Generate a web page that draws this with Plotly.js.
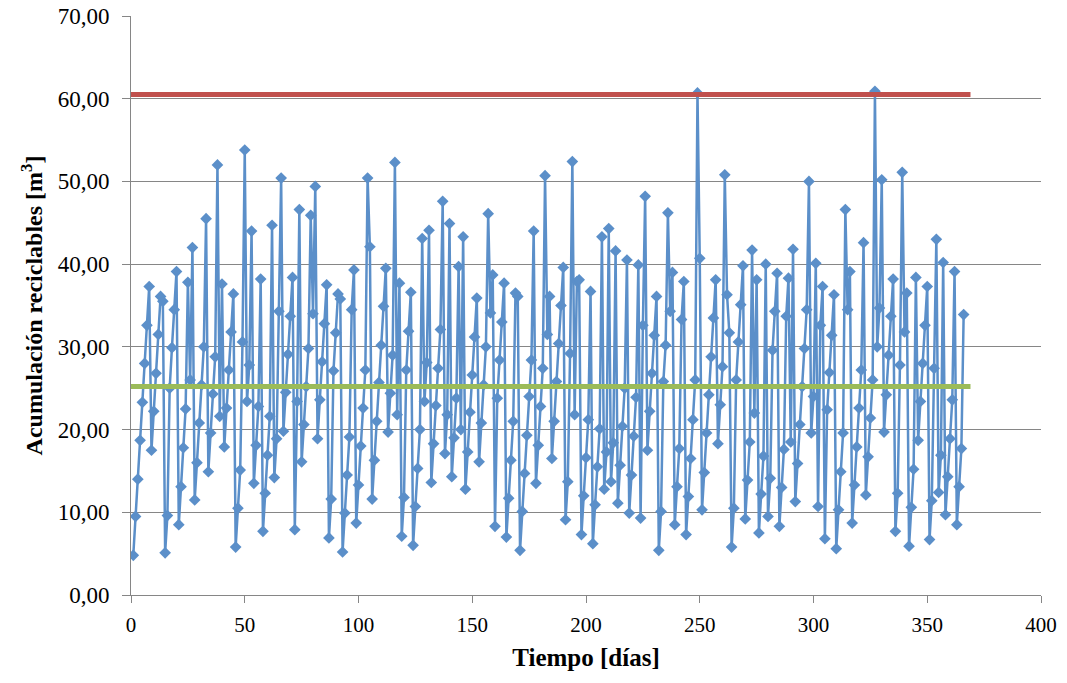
<!DOCTYPE html>
<html>
<head>
<meta charset="utf-8">
<script src="https://cdn.plot.ly/plotly-3.0.1.min.js"></script>
<style>html,body{margin:0;padding:0;background:#fff;}#chart{width:1067px;height:683px;}</style>
</head>
<body>
<div id="chart"></div>
<script>
// Daily accumulation of recyclables [m3] (day 1 .. 366)
const acumulacion = [
  4.8, 9.5, 14.0, 18.7, 23.3, 28.0, 32.6, 37.3, 17.5, 22.2, 26.8, 31.5, 36.1, 35.5, 5.1, 9.6, 25.0, 29.9, 34.5, 39.1, 8.5, 13.1, 17.8, 22.5, 37.8, 26.0, 42.0, 11.5, 16.0, 20.8, 25.4, 30.0, 45.5, 14.9, 19.6, 24.3, 28.8,
  52.0, 21.6, 37.6, 17.9, 22.6, 27.2, 31.8, 36.4, 5.8, 10.5, 15.1, 30.6, 53.8, 23.4, 27.8, 44.0, 13.5, 18.1, 22.8, 38.2, 7.7, 12.3, 16.9, 21.6, 44.7, 14.2, 18.9, 34.3, 50.4, 19.8, 24.5, 29.1, 33.7, 38.4, 7.9, 23.4, 46.6, 16.1,
  20.6, 25.2, 29.8, 45.9, 34.0, 49.4, 18.9, 23.6, 28.2, 32.8, 37.5, 6.9, 11.6, 27.1, 31.7, 36.4, 35.8, 5.2, 9.9, 14.5, 19.1, 34.5, 39.3, 8.7, 13.3, 18.0, 22.6, 27.2, 50.4, 42.1, 11.6, 16.3, 21.0, 25.7, 30.2, 34.9, 39.5,
  19.7, 24.4, 29.0, 52.3, 21.8, 37.7, 7.1, 11.8, 27.2, 31.9, 36.6, 6.0, 10.7, 15.3, 20.0, 43.1, 23.4, 28.1, 44.1, 13.6, 18.3, 22.9, 27.4, 32.1, 47.6, 17.1, 21.8, 44.9, 14.3, 19.0, 23.8, 39.7, 20.0, 43.3, 12.8, 17.3, 22.1, 26.6,
  31.2, 35.9, 16.1, 20.8, 25.4, 30.0, 46.1, 34.1, 38.7, 8.3, 23.8, 28.4, 33.0, 37.7, 7.0, 11.7, 16.3, 21.0, 36.5, 36.1, 5.4, 10.1, 14.7, 19.3, 24.0, 28.4, 44.0, 13.5, 18.1, 22.8, 27.4, 50.7, 31.5, 36.1, 16.5, 21.0, 25.8,
  30.4, 35.0, 39.6, 9.1, 13.7, 29.2, 52.4, 21.8, 37.9, 38.1, 7.3, 12.0, 16.6, 21.2, 36.7, 6.2, 10.9, 15.5, 20.1, 43.3, 12.8, 17.3, 44.3, 13.7, 18.4, 41.6, 11.1, 15.7, 20.4, 25.0, 40.5, 9.9, 14.5, 19.2, 23.9, 39.9, 9.3, 32.6, 48.2,
  17.5, 22.2, 26.8, 31.4, 36.1, 5.4, 10.1, 25.8, 30.2, 46.2, 34.3, 39.0, 8.5, 13.1, 17.7, 33.3, 37.9, 7.3, 11.9, 16.5, 21.2, 26.0, 60.7, 40.7, 10.3, 14.8, 19.6, 24.2, 28.8, 33.5, 38.1, 18.3, 23.0, 27.6, 50.8, 36.3,
  31.7, 5.8, 10.5, 26.0, 30.6, 35.1, 39.8, 9.2, 13.9, 18.5, 41.7, 22.0, 38.1, 7.5, 12.2, 16.8, 40.0, 9.5, 14.1, 29.6, 34.3, 38.9, 8.3, 13.0, 17.6, 33.7, 38.3, 18.5, 41.8, 11.3, 15.9, 20.6, 25.2, 29.8, 34.5, 50.0, 19.6, 24.0,
  40.1, 10.7, 32.6, 37.3, 6.8, 22.4, 26.9, 31.4, 36.3, 5.6, 10.3, 14.9, 19.6, 46.6, 34.5, 39.1, 8.7, 13.3, 17.9, 22.6, 27.2, 42.6, 12.1, 16.7, 21.4, 26.0, 60.9, 30.0, 34.7, 50.2, 19.7, 24.2, 29.0, 33.7, 38.2, 7.7, 12.3, 27.8,
  51.1, 31.8, 36.5, 5.9, 10.6, 15.2, 38.4, 18.7, 23.4, 28.0, 32.6, 37.3, 6.7, 11.4, 27.4, 43.0, 12.4, 16.9, 40.2, 9.7, 14.3, 18.9, 23.6, 39.1, 8.5, 13.1, 17.7, 33.9
];
const dias = acumulacion.map((v, i) => i + 1);

// Reference lines
const lineaDias = [0, 369];
const capacidadMax = [60.5, 60.5];
const promedio = [25.2, 25.2];

// Axis ticks
const yTicks = [0, 10, 20, 30, 40, 50, 60, 70];
const xTicks = [0, 50, 100, 150, 200, 250, 300, 350, 400];

const serif = 'Liberation Serif, DejaVu Serif, serif';

const traces = [
  {
    x: dias, y: acumulacion, type: 'scatter', mode: 'lines+markers',
    line: {color: '#5B8FC9', width: 2.5},
    marker: {symbol: 'diamond', size: 9, color: '#5B8FC9'},
    showlegend: false, hoverinfo: 'x+y'
  },
  {
    x: lineaDias, y: promedio, type: 'scatter', mode: 'lines',
    line: {color: '#9BBB59', width: 5},
    showlegend: false
  },
  {
    x: lineaDias, y: capacidadMax, type: 'scatter', mode: 'lines',
    line: {color: '#C0504D', width: 5},
    showlegend: false
  }
];

const layout = {
  width: 1067, height: 683,
  margin: {l: 131, r: 26, t: 16, b: 88},
  paper_bgcolor: '#ffffff', plot_bgcolor: '#ffffff',
  separators: ',.',
  showlegend: false,
  font: {family: serif, color: '#000000', size: 22},
  xaxis: {
    range: [0, 400], tickvals: xTicks, ticktext: xTicks.map(String),
    showgrid: false, zeroline: false,
    showline: true, linecolor: '#868686', linewidth: 1,
    ticks: 'outside', ticklen: 7, tickcolor: '#868686',
    ticklabelstandoff: 4,
    tickfont: {family: serif, size: 21, color: '#000'},
    title: {text: '<b>Tiempo [días]</b>', font: {family: serif, size: 25, color: '#000'}, standoff: 12}
  },
  yaxis: {
    range: [0, 70], tickvals: yTicks, tickformat: '.2f',
    showgrid: true, gridcolor: '#868686', gridwidth: 1,
    zeroline: false,
    showline: true, linecolor: '#868686', linewidth: 1,
    ticks: 'outside', ticklen: 8, tickcolor: '#868686',
    ticklabelstandoff: 8,
    tickfont: {family: serif, size: 23, color: '#000'},
    title: {text: '<b>Acumulación reciclables [m<sup>3</sup>]</b>', font: {family: serif, size: 24, color: '#000'}, standoff: 8}
  }
};

Plotly.newPlot('chart', traces, layout, {displayModeBar: false, staticPlot: true});
</script>
</body>
</html>
